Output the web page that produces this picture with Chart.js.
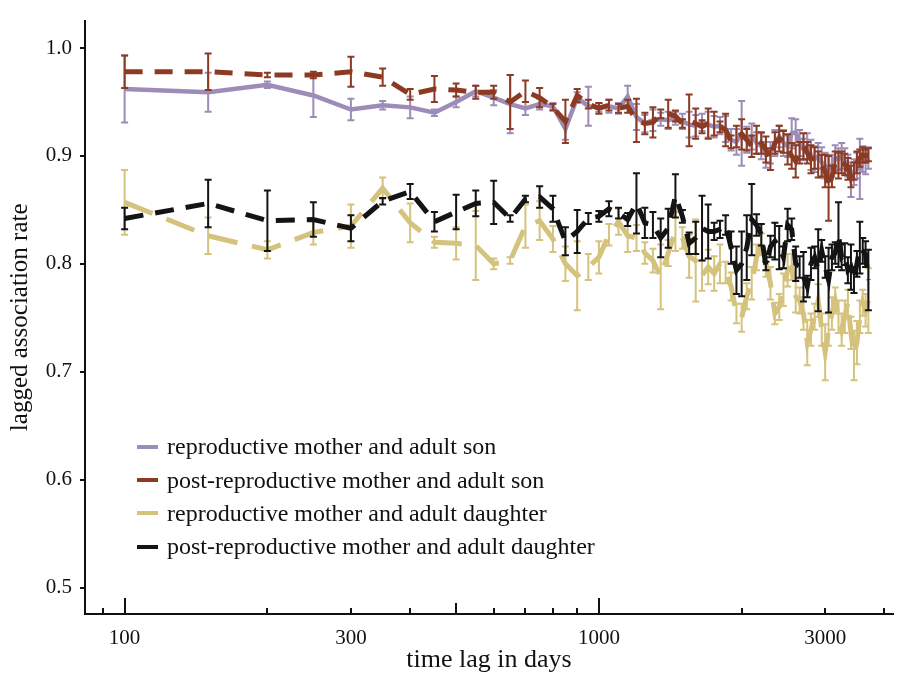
<!DOCTYPE html>
<html>
<head>
<meta charset="utf-8">
<script src="https://cdn.jsdelivr.net/npm/chart.js@4.4.1/dist/chart.umd.min.js"></script>
<style>
  html, body { margin: 0; padding: 0; background: #ffffff; }
  #wrap { position: relative; width: 897px; height: 680px; }
  #legend { position: absolute; left: 137px; top: 430px; font-family: 'Liberation Serif', 'Times New Roman', serif; font-size: 24px; color: #111; }
  #legend .row { display: flex; align-items: center; height: 33.4px; white-space: nowrap; }
  #legend .sw { display: inline-block; width: 21px; height: 4px; margin-right: 9px; }
</style>
</head>
<body>
<div id="wrap">
  <canvas id="c" width="897" height="680"></canvas>
  <div id="legend"></div>
</div>
<script>
// ---------- data ----------
const lags = [100,150,200,250,300,350,400,450,500,550,
  600,650,700,750,800,850,900,950,1000,1050,
  1100,1150,1200,1250,1300,1350,1400,1450,1500,1550,
  1600,1650,1700,1750,1800,1850,1900,1950,2000,2050,
  2100,2150,2200,2250,2300,2350,2400,2450,2500,2550,
  2600,2650,2700,2750,2800,2850,2900,2950,3000,3050,
  3100,3150,3200,3250,3300,3350,3400,3450,3500,3550,
  3600,3650,3700];

const seriesLabels = [
  'reproductive mother and adult son',
  'post-reproductive mother and adult son',
  'reproductive mother and adult daughter',
  'post-reproductive mother and adult daughter'
];

const reproSonRate = [0.962,0.959,0.966,0.956,0.943,0.947,0.945,0.940,0.950,0.960,
  0.954,0.948,0.944,0.948,0.946,0.925,0.954,0.946,0.945,0.946,
  0.944,0.955,0.936,0.930,0.933,0.934,0.933,0.935,0.932,0.929,
  0.928,0.931,0.929,0.927,0.928,0.925,0.915,0.913,0.921,0.915,
  0.918,0.912,0.909,0.901,0.903,0.912,0.918,0.912,0.909,0.921,
  0.922,0.912,0.906,0.909,0.901,0.897,0.900,0.894,0.891,0.888,
  0.891,0.898,0.897,0.900,0.895,0.891,0.878,0.885,0.891,0.888,
  0.897,0.895,0.898];
const reproSonErr = [0.031,0.018,0.003,0.020,0.010,0.004,0.010,0.003,0.005,0.005,
  0.007,0.027,0.006,0.005,0.003,0.010,0.005,0.018,0.004,0.006,
  0.005,0.010,0.012,0.008,0.010,0.006,0.008,0.006,0.007,0.012,
  0.010,0.008,0.012,0.010,0.008,0.012,0.010,0.012,0.030,0.012,
  0.012,0.010,0.012,0.012,0.010,0.012,0.010,0.012,0.010,0.014,
  0.012,0.012,0.010,0.012,0.014,0.012,0.012,0.014,0.012,0.012,
  0.010,0.012,0.010,0.012,0.012,0.010,0.016,0.012,0.012,0.028,
  0.012,0.012,0.010];

const postSonRate = [0.978,0.978,0.975,0.975,0.978,0.973,0.957,0.962,0.961,0.959,
  0.959,0.950,0.960,0.954,0.945,0.932,0.956,0.948,0.944,0.947,
  0.944,0.946,0.933,0.930,0.931,0.939,0.939,0.937,0.930,0.933,
  0.930,0.927,0.930,0.930,0.927,0.924,0.913,0.918,0.920,0.915,
  0.909,0.915,0.912,0.906,0.897,0.912,0.916,0.913,0.906,0.900,
  0.895,0.903,0.909,0.903,0.897,0.898,0.892,0.891,0.886,0.870,
  0.881,0.894,0.891,0.894,0.892,0.888,0.881,0.886,0.894,0.898,
  0.901,0.900,0.901];
const postSonErr = [0.015,0.017,0.002,0.003,0.014,0.008,0.005,0.012,0.006,0.006,
  0.006,0.025,0.010,0.009,0.003,0.020,0.006,0.004,0.005,0.005,
  0.004,0.006,0.020,0.010,0.014,0.004,0.013,0.005,0.004,0.024,
  0.014,0.006,0.014,0.011,0.005,0.015,0.006,0.010,0.014,0.010,
  0.010,0.013,0.010,0.012,0.010,0.010,0.012,0.010,0.014,0.012,
  0.015,0.010,0.012,0.010,0.013,0.010,0.012,0.010,0.015,0.030,
  0.010,0.010,0.012,0.010,0.010,0.010,0.010,0.008,0.010,0.008,
  0.007,0.006,0.006];

const reproDaughterRate = [0.857,0.826,0.813,0.829,0.835,0.870,0.838,0.820,0.819,0.817,
  0.800,0.803,0.835,0.840,0.823,0.800,0.789,0.797,0.806,0.827,
  0.839,0.826,0.824,0.810,0.803,0.788,0.810,0.830,0.824,0.807,
  0.803,0.789,0.797,0.791,0.800,0.792,0.779,0.754,0.750,0.770,
  0.782,0.806,0.818,0.800,0.782,0.754,0.760,0.776,0.794,0.797,
  0.770,0.766,0.754,0.727,0.739,0.751,0.766,0.739,0.718,0.739,
  0.754,0.766,0.751,0.739,0.751,0.764,0.736,0.715,0.727,0.751,
  0.764,0.757,0.766];
const reproDaughterErr = [0.030,0.017,0.008,0.011,0.020,0.010,0.018,0.005,0.015,0.032,
  0.005,0.003,0.020,0.018,0.012,0.016,0.032,0.012,0.015,0.010,
  0.012,0.015,0.012,0.010,0.011,0.030,0.012,0.018,0.010,0.020,
  0.038,0.014,0.016,0.016,0.018,0.010,0.013,0.009,0.013,0.012,
  0.015,0.012,0.010,0.012,0.015,0.010,0.012,0.015,0.015,0.012,
  0.015,0.012,0.015,0.021,0.015,0.012,0.015,0.015,0.026,0.015,
  0.015,0.012,0.015,0.015,0.015,0.012,0.015,0.023,0.020,0.015,
  0.012,0.015,0.030];

const postDaughterRate = [0.842,0.856,0.840,0.841,0.833,0.858,0.867,0.839,0.848,0.856,
  0.857,0.842,0.860,0.862,0.851,0.821,0.830,0.842,0.844,0.851,
  0.847,0.841,0.856,0.838,0.836,0.824,0.833,0.863,0.844,0.819,
  0.824,0.833,0.830,0.830,0.832,0.836,0.815,0.794,0.800,0.815,
  0.841,0.836,0.827,0.798,0.816,0.821,0.815,0.806,0.836,0.832,
  0.800,0.797,0.788,0.779,0.800,0.806,0.794,0.812,0.797,0.785,
  0.806,0.810,0.827,0.806,0.809,0.794,0.797,0.785,0.800,0.815,
  0.812,0.809,0.785];
const postDaughterErr = [0.010,0.022,0.028,0.016,0.012,0.003,0.007,0.009,0.016,0.012,
  0.020,0.003,0.003,0.010,0.012,0.013,0.020,0.005,0.005,0.007,
  0.005,0.006,0.028,0.014,0.012,0.018,0.018,0.020,0.006,0.010,
  0.015,0.030,0.025,0.008,0.008,0.009,0.015,0.022,0.030,0.030,
  0.033,0.010,0.010,0.004,0.010,0.017,0.020,0.010,0.015,0.010,
  0.016,0.010,0.023,0.010,0.015,0.010,0.038,0.010,0.010,0.030,
  0.012,0.010,0.030,0.012,0.010,0.012,0.021,0.012,0.012,0.024,
  0.012,0.012,0.028];

const yTickValues = [0.5, 0.6, 0.7, 0.8, 0.9, 1.0];
const xTickValues = [90,100,200,300,400,500,600,700,800,900,1000,2000,3000,4000];
const xTickLabels = [100, 300, 1000, 3000];

// ---------- styling ----------
const COLORS = ['#9d8cb7', '#8c3b22', '#d5c27d', '#141414'];
const DASHES = [[], [18, 12], [30, 15], [19, 12]];
const ORDER = [4, 3, 2, 1];
const RATES = [reproSonRate, postSonRate, reproDaughterRate, postDaughterRate];
const ERRS = [reproSonErr, postSonErr, reproDaughterErr, postDaughterErr];

Chart.defaults.font.family = "'Liberation Serif', 'Times New Roman', serif";
Chart.defaults.font.size = 21;
Chart.defaults.color = '#111';

const datasets = seriesLabels.map((label, k) => ({
  label,
  data: lags.map((x, i) => ({ x, y: RATES[k][i] })),
  errors: ERRS[k],
  borderColor: COLORS[k],
  backgroundColor: COLORS[k],
  borderWidth: k === 0 ? 4.5 : 5,
  borderDash: DASHES[k],
  pointRadius: 0,
  pointHoverRadius: 0,
  tension: 0,
  fill: false,
  order: ORDER[k]
}));

// error bars drawn through the chart scales, layered with their dataset
const errorBars = {
  id: 'errorBars',
  afterDatasetDraw(chart, args) {
    const ds = chart.data.datasets[args.index];
    if (!ds.errors) return;
    const xs = chart.scales.x, ys = chart.scales.y, ctx = chart.ctx;
    ctx.save();
    ctx.strokeStyle = ds.borderColor;
    ctx.lineWidth = 2;
    ctx.setLineDash([]);
    ds.data.forEach((p, i) => {
      const e = ds.errors[i];
      const x = xs.getPixelForValue(p.x);
      const y1 = ys.getPixelForValue(p.y + e);
      const y2 = ys.getPixelForValue(p.y - e);
      ctx.beginPath();
      ctx.moveTo(x, y1); ctx.lineTo(x, y2);
      ctx.moveTo(x - 3.5, y1); ctx.lineTo(x + 3.5, y1);
      ctx.moveTo(x - 3.5, y2); ctx.lineTo(x + 3.5, y2);
      ctx.stroke();
    });
    ctx.restore();
  }
};

// inward x-axis tick marks of varying length
const xTickMarks = {
  id: 'xTickMarks',
  afterDraw(chart) {
    const xs = chart.scales.x, ctx = chart.ctx, b = chart.chartArea.bottom;
    ctx.save();
    ctx.strokeStyle = '#111';
    ctx.lineWidth = 2;
    xTickValues.forEach(v => {
      const x = Math.round(xs.getPixelForValue(v));
      const len = (v === 100 || v === 1000) ? 16 : (v === 500 ? 11 : 6);
      ctx.beginPath();
      ctx.moveTo(x, b);
      ctx.lineTo(x, b - len);
      ctx.stroke();
    });
    ctx.restore();
  }
};

const chart = new Chart(document.getElementById('c'), {
  type: 'line',
  data: { datasets },
  options: {
    responsive: false,
    animation: false,
    devicePixelRatio: 1,
    layout: { padding: { top: 8, right: 4, left: 0, bottom: 0 } },
    plugins: { legend: { display: false }, tooltip: { enabled: false } },
    scales: {
      x: {
        type: 'logarithmic',
        min: 82.5,
        max: 4170,
        afterFit: s => { s.height = 66; },
        afterBuildTicks: s => { s.ticks = xTickValues.map(v => ({ value: v })); },
        grid: { display: true, drawOnChartArea: false, drawTicks: false, color: 'rgba(0,0,0,0)' },
        border: { display: true, color: '#111', width: 2 },
        ticks: {
          autoSkip: false, maxRotation: 0, padding: 12, color: '#111',
          callback: v => xTickLabels.includes(v) ? String(v) : ''
        },
        title: { display: true, text: 'time lag in days', color: '#111', font: { size: 26 }, padding: { top: 0, bottom: 4 } }
      },
      y: {
        min: 0.4755,
        max: 1.0254,
        afterFit: s => { s.width = 85; },
        afterBuildTicks: s => { s.ticks = yTickValues.map(v => ({ value: v })); },
        grid: { display: true, drawOnChartArea: false, drawTicks: true, tickLength: 5, color: '#111', lineWidth: 2 },
        border: { display: true, color: '#111', width: 2 },
        ticks: { padding: 8, color: '#111', callback: v => Number(v).toFixed(1) },
        title: { display: true, text: 'lagged association rate', color: '#111', font: { size: 25 }, padding: { top: 5, bottom: 0 } }
      }
    }
  },
  plugins: [errorBars, xTickMarks]
});

// HTML legend built from the chart's datasets
const legendEl = document.getElementById('legend');
chart.data.datasets.forEach(ds => {
  const row = document.createElement('div');
  row.className = 'row';
  const sw = document.createElement('span');
  sw.className = 'sw';
  sw.style.background = ds.borderColor;
  const tx = document.createElement('span');
  tx.textContent = ds.label;
  row.appendChild(sw); row.appendChild(tx);
  legendEl.appendChild(row);
});
</script>
</body>
</html>
